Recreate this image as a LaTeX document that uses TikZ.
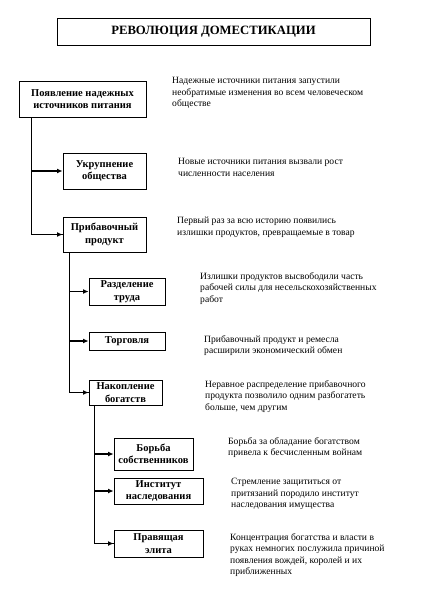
\documentclass[tikz,border=0pt]{standalone}
\usepackage{fontspec}
\setmainfont{Liberation Serif}
\usetikzlibrary{arrows.meta}
\begin{document}
\begin{tikzpicture}[x=1pt,y=-1pt,
  box/.style={draw,line width=0.9pt,align=center,inner sep=1pt,font=\bfseries\fontsize{10.5}{12.5}\selectfont},
  desc/.style={anchor=north west,align=left,inner sep=0pt,font=\fontsize{9.6}{11.6}\selectfont},
  trunk/.style={line width=0.8pt},
  arr/.style={line width=1.6pt,-{Latex[length=5.5pt,width=5pt]}}]
\useasboundingbox (0,0) rectangle (420,604);
\node[box,minimum width=313pt,minimum height=27pt,font=\bfseries\fontsize{12.7}{14}\selectfont] (title) at (213.5,31.5) {РЕВОЛЮЦИЯ ДОМЕСТИКАЦИИ};
\node[box,minimum width=127pt,minimum height=36pt] (b1) at (82.5,99) {Появление надежных\\источников питания};
\node[box,minimum width=83pt,minimum height=36pt] (b2) at (104.5,171) {Укрупнение\\общества};
\node[box,minimum width=83pt,minimum height=35pt] (b3) at (104.5,234.5) {Прибавочный\\продукт};
\node[box,minimum width=76pt,minimum height=27pt] (b4) at (127,291.5) {Разделение\\труда};
\node[box,minimum width=76pt,minimum height=18pt] (b5) at (127,341) {Торговля};
\node[box,minimum width=73pt,minimum height=25pt] (b6) at (125.5,392.5) {Накопление\\богатств};
\node[box,minimum width=79pt,minimum height=32pt] (b7) at (153.5,454) {Борьба\\собственников};
\node[box,minimum width=89pt,minimum height=26pt] (b8) at (158.5,491) {Институт\\наследования};
\node[box,minimum width=89pt,minimum height=27pt] (b9) at (158.5,543.5) {Правящая\\элита};

\node[desc] (d1) at (172,77) {Надежные источники питания запустили\\необратимые изменения во всем человеческом\\обществе};
\node[desc] (d2) at (178,158) {Новые источники питания вызвали рост\\численности населения};
\node[desc] (d3) at (177,217) {Первый раз за всю историю появились\\излишки продуктов, превращаемые в товар};
\node[desc] (d4) at (200,272) {Излишки продуктов высвободили часть\\рабочей силы для несельскохозяйственных\\работ};
\node[desc] (d5) at (204,335) {Прибавочный продукт и ремесла\\расширили экономический обмен};
\node[desc] (d6) at (205,380) {Неравное распределение прибавочного\\продукта позволило одним разбогатеть\\больше, чем другим};
\node[desc] (d7) at (228,437) {Борьба за обладание богатством\\привела к бесчисленным войнам};
\node[desc] (d8) at (231,478) {Стремление защититься от\\притязаний породило институт\\наследования имущества};
\node[desc] (d9) at (230,533) {Концентрация богатства и власти в\\руках немногих послужила причиной\\появления вождей, королей и их\\приближенных};

\coordinate (t1) at ([xshift=13pt]b1.south west);
\coordinate (t3) at ([xshift=7pt]b3.south west);
\coordinate (t6) at ([xshift=6pt]b6.south west);
\draw[trunk] (t1) |- (b3.west);
\draw[arr] (b2.west -| t1) -- (b2.west);
\draw[arr] (b3.west -| t1) -- (b3.west);
\draw[trunk] (t3) |- (b6.west);
\draw[arr] (b4.west -| t3) -- (b4.west);
\draw[arr] (b5.west -| t3) -- (b5.west);
\draw[arr] (b6.west -| t3) -- (b6.west);
\draw[trunk] (t6) |- (b9.west);
\draw[arr] (b7.west -| t6) -- (b7.west);
\draw[arr] (b8.west -| t6) -- (b8.west);
\draw[arr] (b9.west -| t6) -- (b9.west);
\end{tikzpicture}
\end{document}
